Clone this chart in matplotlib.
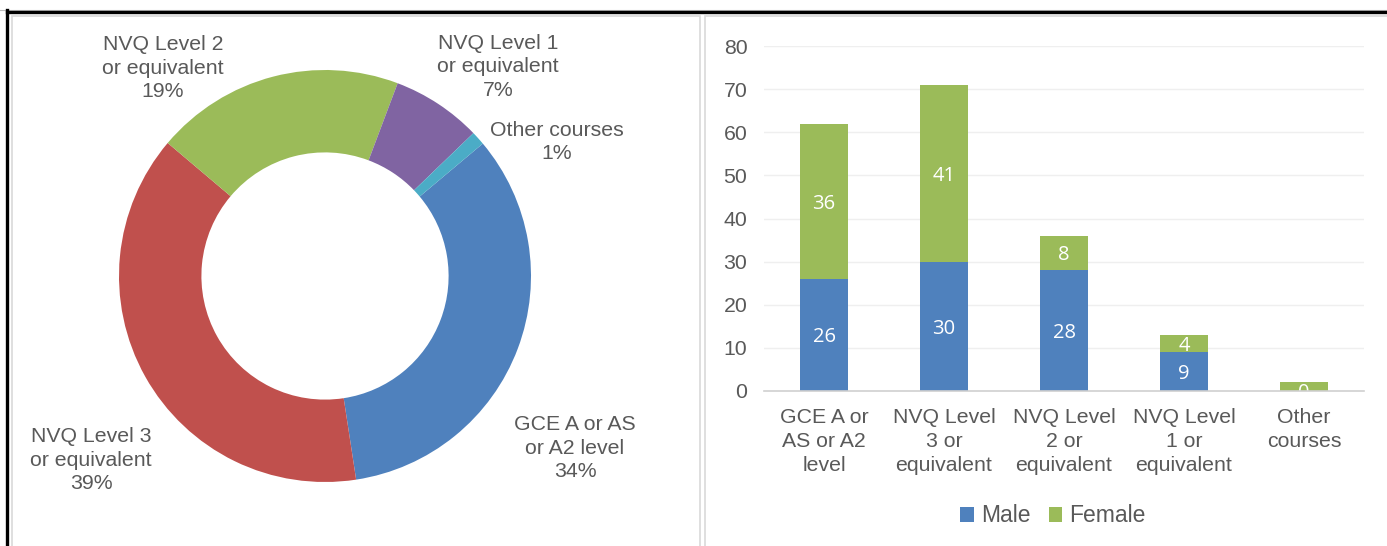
import matplotlib
matplotlib.use("Agg")
import matplotlib.pyplot as plt
from matplotlib.patches import Rectangle
from matplotlib.lines import Line2D

# ---- data ----
pie_labels = ["GCE A or AS\nor A2 level", "NVQ Level 3\nor equivalent", "NVQ Level 2\nor equivalent",
              "NVQ Level 1\nor equivalent", "Other courses"]
pie_pct_text = ["34%", "39%", "19%", "7%", "1%"]
pie_colors = ["#4F81BD", "#C0504D", "#9BBB59", "#8064A2", "#4BACC6"]

bar_categories = ["GCE A or\nAS or A2\nlevel", "NVQ Level\n3 or\nequivalent", "NVQ Level\n2 or\nequivalent",
                  "NVQ Level\n1 or\nequivalent", "Other\ncourses"]
male = [26, 30, 28, 9, 0]
female = [36, 41, 8, 4, 2]
y_ticks = [0, 10, 20, 30, 40, 50, 60, 70, 80]

totals = [m + f for m, f in zip(male, female)]

W, H = 1387, 546
fig = plt.figure(figsize=(W / 100, H / 100), dpi=100)
plt.rcParams['font.family'] = ['Liberation Sans', 'DejaVu Sans']
TXT = "#595959"
FS = 15.3


def fx(x):
    return x / W


def fy(y):
    return 1 - y / H


def rect(l, t, r, b):
    return [fx(l), fy(b), (r - l) / W, (b - t) / H]


# ---- frame lines ----
fig.add_artist(Line2D([0, 1], [fy(9.5), fy(9.5)], color="#BBBBBB", lw=0.8))
fig.add_artist(Line2D([fx(7), 1], [fy(11.5), fy(11.5)], color="black", lw=2.4))
fig.add_artist(Line2D([fx(6.5), fx(6.5)], [0, fy(10)], color="black", lw=2.4))
fig.add_artist(Rectangle((fx(12), fy(560)), (700 - 12) / W, (560 - 16) / H, fill=False,
                         edgecolor="#D9D9D9", lw=1.2))
fig.add_artist(Rectangle((fx(705), fy(560)), (1400 - 705) / W, (560 - 16) / H, fill=False,
                         edgecolor="#D9D9D9", lw=1.2))

# ---- donut ----
cx, cy, R = 325, 276, 206
axp = fig.add_axes(rect(cx - R, cy - R, cx + R, cy + R))
axp.pie(totals, colors=pie_colors, startangle=40, counterclock=False, radius=1,
        wedgeprops=dict(width=0.4, edgecolor="none"))
axp.set_xlim(-1, 1)
axp.set_ylim(-1, 1)
axp.set_aspect("equal")
axp.axis("off")

label_xy = [(575, 448), (91, 460), (163, 68), (498, 67), (557, 142)]
for lab, pct, (x, y) in zip(pie_labels, pie_pct_text, label_xy):
    fig.text(fx(x), fy(y), f"{lab}\n{pct}", ha="center", va="center", fontsize=FS,
             color=TXT, linespacing=1.27)

# ---- stacked bars ----
ax = fig.add_axes(rect(764, 46, 1364, 391))
xs = list(range(len(bar_categories)))
b1 = ax.bar(xs, male, width=0.4, color="#4F81BD", label="Male", zorder=3)
b2 = ax.bar(xs, female, width=0.4, bottom=male, color="#9BBB59", label="Female", zorder=3)
for i in xs:
    ax.text(i, male[i] / 2, str(male[i]), ha="center", va="center_baseline", color="white",
            fontsize=14.5, family="Open Sans", zorder=4)
    if i < len(xs) - 1:
        ax.text(i, male[i] + female[i] / 2, str(female[i]), ha="center", va="center_baseline",
                color="white", fontsize=14.5, family="Open Sans", zorder=4)
ax.set_xlim(-0.5, len(xs) - 0.5)
ax.set_ylim(0, 80)
ax.set_yticks(y_ticks)
ax.set_xticks(xs)
ax.set_xticklabels(bar_categories, fontsize=FS, color=TXT, linespacing=1.35)
ax.tick_params(axis="y", labelsize=FS, labelcolor=TXT, length=0, pad=12)
ax.tick_params(axis="x", length=0, pad=12)
ax.grid(axis="y", color="#EFEFEF", lw=1.0, zorder=0)
for s in ["top", "right", "left"]:
    ax.spines[s].set_visible(False)
ax.spines["bottom"].set_color("#D0D0D0")
ax.spines["bottom"].set_linewidth(1.2)
ax.spines["bottom"].set_zorder(5)

fig.legend(handles=[b1, b2], labels=["Male", "Female"], loc="center",
           bbox_to_anchor=(fx(1053), fy(516)), ncol=2, frameon=False, fontsize=16.5,
           labelcolor=TXT, handlelength=0.6, handleheight=0.6, handletextpad=0.3,
           columnspacing=0.8)

fig.savefig("out.png", dpi=100)
